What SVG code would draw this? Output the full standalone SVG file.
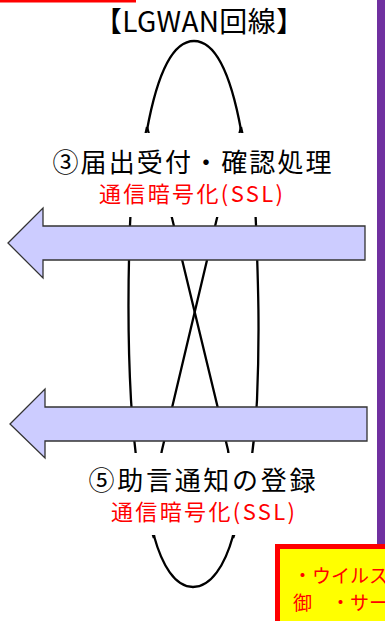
<svg xmlns="http://www.w3.org/2000/svg" width="385" height="621" viewBox="0 0 385 621">
<style>
.jp{font-family:"Noto Sans CJK JP","Noto Sans",sans-serif}
.lbl{font-size:26px;fill:#000;text-anchor:middle}
.ssl{font-size:22px;fill:#FF0000;text-anchor:middle}
.arrow{fill:#CCCCFF;stroke:#333333;stroke-width:1.3;stroke-linejoin:miter}
.wire{fill:none;stroke:#000;stroke-width:2.3}
.note{font-size:19px;fill:#FF0000}
</style>
<defs>
<clipPath id="vis">
<rect x="0" y="0" width="385" height="133"/>
<rect x="0" y="217" width="385" height="236"/>
<rect x="0" y="535" width="385" height="90"/>
</clipPath>
</defs>
<rect width="385" height="621" fill="#FFFFFF"/>
<g id="topbar"><rect x="0" y="0" width="136" height="2.5" fill="#FF0000"/></g>
<g id="divider"><rect x="377" y="0" width="10" height="548" fill="#7030A0"/></g>
<g id="title"><text class="jp" x="199" y="32" font-size="28" text-anchor="middle" textLength="210" lengthAdjust="spacing">【LGWAN回線】</text></g>
<g id="connectors" clip-path="url(#vis)">
<path class="wire" d="M147,130 C158,70 174,41 194,41 C214,41 230,70 241,130"/>
<path class="wire" d="M147,127 C141,155 131,190 130,225 C128,280 127,330 131,400 C133,440 140,500 154,538"/>
<path class="wire" d="M241,127 C247,155 255,190 256,225 C258,280 260,330 257,400 C255,440 248,500 233,538"/>
<path class="wire" d="M147,127 C158,165 166,195 172,218 L228,450 C231,470 233,510 233,538"/>
<path class="wire" d="M241,127 C232,165 223,195 217,218 L162,450 C158,470 155,510 154,538"/>
<path class="wire" d="M154,536 C162,565 175,587 193,587 C211,587 225,565 233,536"/>
</g>
<g id="arrow1"><path class="arrow" d="M8,243 L43,208 L43,226 L365,226 L365,260 L43,260 L43,278 Z"/></g>
<g id="arrow2"><path class="arrow" d="M10,424 L45,389 L45,407 L367,407 L367,441 L45,441 L45,458 Z"/></g>
<g id="step3">
<text class="jp lbl" x="192" y="172" textLength="279" lengthAdjust="spacing">③届出受付・確認処理</text>
<text class="jp ssl" x="191" y="202" textLength="184" lengthAdjust="spacing">通信暗号化(SSL)</text>
</g>
<g id="step5">
<text class="jp lbl" x="202" y="490" textLength="227" lengthAdjust="spacing">⑤助言通知の登録</text>
<text class="jp ssl" x="203" y="520" textLength="184" lengthAdjust="spacing">通信暗号化(SSL)</text>
</g>
<g id="notebox">
<rect x="277.5" y="546.5" width="120" height="90" fill="#FFFF00" stroke="#FF0000" stroke-width="5"/>
<text class="jp note" x="293" y="583">・ウイルス対</text>
<text class="jp note" x="293" y="610">御　・サー</text>
</g>
</svg>
